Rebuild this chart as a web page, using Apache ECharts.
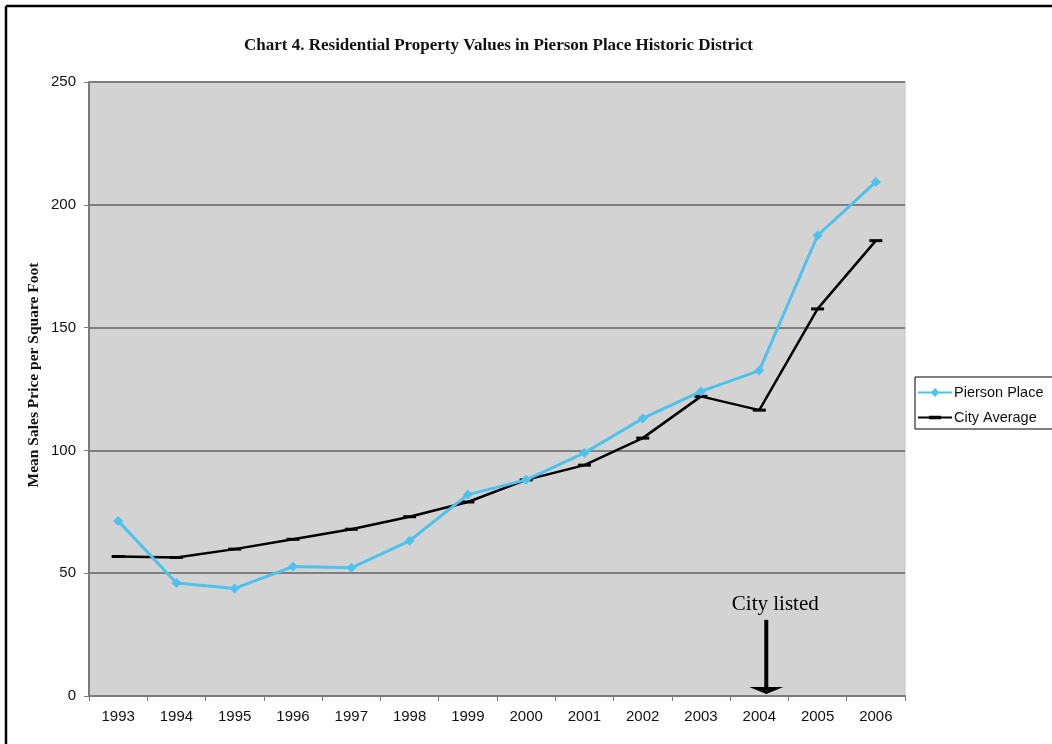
<!DOCTYPE html>
<html>
<head>
<meta charset="utf-8">
<script src="https://cdn.jsdelivr.net/npm/echarts@6/dist/echarts.min.js"></script>
<style>
  html, body { margin: 0; padding: 0; background: #ffffff; }
  #chart { width: 1052px; height: 744px; }
</style>
</head>
<body>
<div id="chart"></div>
<script>
// Mean sales price per square foot, by year
const years = ['1993', '1994', '1995', '1996', '1997', '1998', '1999', '2000',
               '2001', '2002', '2003', '2004', '2005', '2006'];
const piersonPlace = [71.3, 46, 43.8, 52.7, 52.2, 63.2, 82, 88, 99, 113, 124, 132.5, 187.5, 209.3];
const cityAverage = [56.8, 56.4, 59.8, 63.8, 67.9, 73, 79, 88, 94, 105, 122, 116.4, 157.6, 185.4];
const yTicks = [0, 50, 100, 150, 200, 250];

// Designation year marker
const listedYear = '2004';
const listedLabel = 'City listed';
const arrowTopValue = 31;

const sansFont = 'Arial, "Liberation Sans", sans-serif';
const serifFont = '"Liberation Serif", "Times New Roman", serif';

// Legend glyphs: line segment with the series marker in the middle
const piersonIcon = 'path://M0,3.9 H34 V6.1 H0 Z M17,0.5 L21.5,5 L17,9.5 L12.5,5 Z';
const cityIcon = 'path://M0,3.9 H34 V6.1 H0 Z M11,3.3 H23 V6.7 H11 Z';

const chart = echarts.init(document.getElementById('chart'));

const option = {
  animation: false,
  backgroundColor: '#ffffff',
  title: {
    text: 'Chart 4. Residential Property Values in Pierson Place Historic District',
    left: 239,
    top: 32,
    textStyle: {
      fontFamily: serifFont,
      fontWeight: 'bold',
      fontSize: 17,
      color: '#111111'
    }
  },
  legend: {
    orient: 'vertical',
    left: 915,
    top: 377,
    itemWidth: 34,
    itemHeight: 10,
    itemGap: 10,
    symbolKeepAspect: true,
    padding: [8, 30, 4, 3],
    borderColor: '#000000',
    borderWidth: 1,
    textStyle: {
      fontFamily: sansFont,
      fontSize: 14.5,
      color: '#111111',
      padding: [0, 0, 0, -3]
    },
    data: [
      { name: 'Pierson Place', icon: piersonIcon },
      { name: 'City Average', icon: cityIcon }
    ]
  },
  grid: {
    left: 89,
    right: 147,
    top: 82,
    bottom: 48,
    show: true,
    backgroundColor: '#d3d3d3',
    borderColor: '#c4c4c4',
    borderWidth: 1
  },
  xAxis: {
    type: 'category',
    data: years,
    boundaryGap: true,
    axisLine: { lineStyle: { color: '#7a7a7a', width: 2 } },
    axisTick: { show: true, alignWithLabel: false, length: 5, lineStyle: { color: '#7a7a7a', width: 1 } },
    axisLabel: {
      margin: 13,
      fontFamily: sansFont,
      fontSize: 15,
      color: '#111111'
    },
    splitLine: { show: false }
  },
  yAxis: {
    type: 'value',
    min: yTicks[0],
    max: yTicks[yTicks.length - 1],
    interval: yTicks[1] - yTicks[0],
    axisLine: { show: true, lineStyle: { color: '#7a7a7a', width: 2 } },
    axisTick: { show: true, length: 5, lineStyle: { color: '#7a7a7a', width: 1 } },
    axisLabel: {
      margin: 13,
      fontFamily: sansFont,
      fontSize: 15,
      color: '#111111'
    },
    splitLine: { show: true, lineStyle: { color: '#7f7f7f', width: 2 } }
  },
  series: [
    {
      name: 'Pierson Place',
      type: 'line',
      data: piersonPlace,
      symbol: 'diamond',
      symbolSize: 10,
      itemStyle: { color: '#4fc2ec' },
      lineStyle: { color: '#4fc2ec', width: 3 },
      z: 3
    },
    {
      name: 'City Average',
      type: 'line',
      data: cityAverage,
      symbol: 'rect',
      symbolSize: [13, 3],
      itemStyle: { color: '#000000' },
      lineStyle: { color: '#000000', width: 2.5 },
      z: 2
    }
  ]
};

chart.setOption(option);

// Annotation: arrow pointing down to the listing year, plus frame edges
const arrowStart = chart.convertToPixel({ gridIndex: 0 }, [listedYear, arrowTopValue]);
const arrowBase = chart.convertToPixel({ gridIndex: 0 }, [listedYear, 0]);
const ax = arrowStart[0] + 7;

chart.setOption({
  graphic: [
    {
      type: 'text',
      x: 34,
      y: 375,
      rotation: Math.PI / 2,
      style: {
        text: 'Mean Sales Price per Square Foot',
        fontFamily: serifFont,
        fontWeight: 'bold',
        fontSize: 15.5,
        fill: '#111111',
        textAlign: 'center',
        textVerticalAlign: 'middle'
      },
      z: 10
    },
    {
      type: 'text',
      x: ax + 9,
      y: arrowStart[1] - 5,
      style: {
        text: listedLabel,
        fontFamily: serifFont,
        fontSize: 21,
        fill: '#000000',
        textAlign: 'center',
        textVerticalAlign: 'bottom'
      },
      z: 10
    },
    {
      type: 'line',
      shape: { x1: ax, y1: arrowStart[1], x2: ax, y2: arrowBase[1] - 8 },
      style: { stroke: '#000000', lineWidth: 4 },
      z: 10
    },
    {
      type: 'polygon',
      shape: { points: [[ax - 17, arrowBase[1] - 9], [ax + 17, arrowBase[1] - 9], [ax, arrowBase[1] - 2]] },
      style: { fill: '#000000' },
      z: 10
    },
    {
      type: 'line',
      shape: { x1: 6, y1: 6, x2: 1052, y2: 6 },
      style: { stroke: '#000000', lineWidth: 2.5 },
      z: 10
    },
    {
      type: 'line',
      shape: { x1: 6, y1: 6, x2: 6, y2: 744 },
      style: { stroke: '#000000', lineWidth: 2.5 },
      z: 10
    }
  ]
});
</script>
</body>
</html>
